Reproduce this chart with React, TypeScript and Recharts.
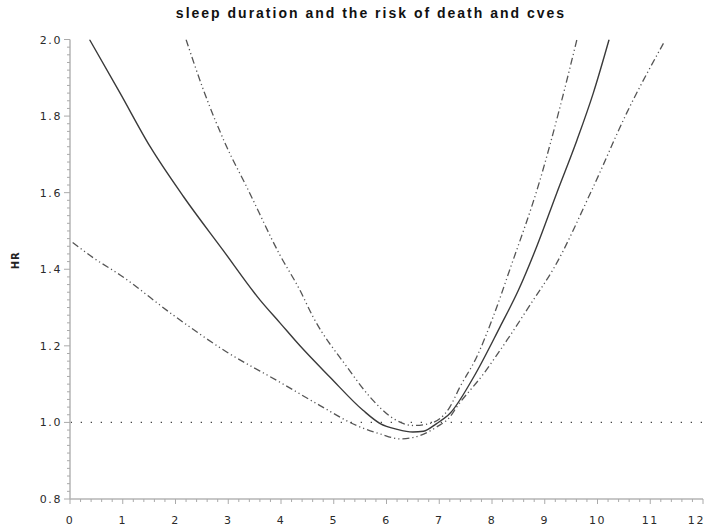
import { LineChart, Line, XAxis, YAxis, ReferenceLine } from "recharts";

// HR curves (x = sleep hours, hr = hazard ratio)
const hrCenter = [
  { x: 0.37, hr: 2.0 },
  { x: 0.95, hr: 1.86 },
  { x: 1.52, hr: 1.72 },
  { x: 2.15, hr: 1.59 },
  { x: 2.9, hr: 1.45 },
  { x: 3.6, hr: 1.32 },
  { x: 3.98, hr: 1.26 },
  { x: 4.36, hr: 1.2 },
  { x: 4.93, hr: 1.118 },
  { x: 5.56, hr: 1.031 },
  { x: 5.88, hr: 0.997 },
  { x: 6.2, hr: 0.982 },
  { x: 6.5, hr: 0.975 },
  { x: 6.7, hr: 0.977 },
  { x: 6.95, hr: 0.997 },
  { x: 7.2, hr: 1.023 },
  { x: 7.65, hr: 1.118 },
  { x: 8.15, hr: 1.249 },
  { x: 8.5, hr: 1.345 },
  { x: 8.85, hr: 1.46 },
  { x: 9.23, hr: 1.6 },
  { x: 9.61, hr: 1.737 },
  { x: 9.92, hr: 1.86 },
  { x: 10.22, hr: 2.0 },
];

const hrUpper = [
  { x: 2.2, hr: 2.0 },
  { x: 2.53, hr: 1.868 },
  { x: 2.97, hr: 1.72 },
  { x: 3.35, hr: 1.615 },
  { x: 3.98, hr: 1.437 },
  { x: 4.36, hr: 1.345 },
  { x: 4.61, hr: 1.275 },
  { x: 5.25, hr: 1.145 },
  { x: 5.69, hr: 1.066 },
  { x: 6.13, hr: 1.01 },
  { x: 6.51, hr: 0.992 },
  { x: 6.82, hr: 0.997 },
  { x: 7.2, hr: 1.04 },
  { x: 7.39, hr: 1.092 },
  { x: 7.71, hr: 1.171 },
  { x: 8.02, hr: 1.275 },
  { x: 8.34, hr: 1.4 },
  { x: 8.91, hr: 1.633 },
  { x: 9.29, hr: 1.824 },
  { x: 9.61, hr: 2.0 },
];

const hrLower = [
  { x: 0.05, hr: 1.47 },
  { x: 0.44, hr: 1.43 },
  { x: 0.95, hr: 1.385 },
  { x: 1.96, hr: 1.28 },
  { x: 2.97, hr: 1.184 },
  { x: 3.98, hr: 1.105 },
  { x: 4.74, hr: 1.044 },
  { x: 5.43, hr: 0.992 },
  { x: 5.88, hr: 0.97 },
  { x: 6.26, hr: 0.957 },
  { x: 6.64, hr: 0.966 },
  { x: 6.95, hr: 0.988 },
  { x: 7.2, hr: 1.014 },
  { x: 7.33, hr: 1.04 },
  { x: 7.84, hr: 1.127 },
  { x: 8.28, hr: 1.214 },
  { x: 8.78, hr: 1.319 },
  { x: 9.16, hr: 1.4 },
  { x: 9.92, hr: 1.615 },
  { x: 10.55, hr: 1.807 },
  { x: 11.25, hr: 1.99 },
];

const X_MAJOR = [0, 1, 2, 3, 4, 5, 6, 7, 8, 9, 10, 11, 12];
const Y_MAJOR = [0.8, 1.0, 1.2, 1.4, 1.6, 1.8, 2.0];

// minor ticks: every 0.2 on x, every 0.02 on y
const xTicks = Array.from({ length: 61 }, (_, i) => +(i * 0.2).toFixed(2));
const yTicks = Array.from({ length: 61 }, (_, i) => +(0.8 + i * 0.02).toFixed(2));

const TITLE = "sleep duration and the risk of death and cves";
const tickFont = { fontFamily: "DejaVu Sans", fontSize: 11, letterSpacing: 1.6, fill: "#2a2a2a" };

const isMajor = (v: number, list: number[]) => list.some((m) => Math.abs(m - v) < 1e-6);

function YTick(props: any) {
  const { x, y, payload } = props;
  const major = isMajor(payload.value, Y_MAJOR);
  return (
    <g>
      <line x1={x} x2={x - (major ? 6 : 3)} y1={y} y2={y} stroke="#aaa" />
      {major && (
        <text x={x - 8} y={y} dy={4} textAnchor="end" {...tickFont}>
          {payload.value.toFixed(1)}
        </text>
      )}
    </g>
  );
}

function XTick(props: any) {
  const { x, y, payload } = props;
  const major = isMajor(payload.value, X_MAJOR);
  const last = payload.value === 12;
  return (
    <g>
      <line x1={x} x2={x} y1={y} y2={y + (major ? 5 : 3)} stroke="#aaa" />
      {major && (
        <text x={last ? 705 : x} y={y + 25} textAnchor={last ? "end" : "middle"} {...tickFont}>
          {payload.value}
        </text>
      )}
    </g>
  );
}

export default function App() {
  return (
    <div style={{ position: "absolute", left: 0, top: 0, width: 706, height: 531, background: "#fff" }}>
      <div
        style={{
          position: "absolute",
          left: 71,
          top: 5,
          width: 600,
          textAlign: "center",
          fontFamily: "Liberation Sans, Arial, sans-serif",
          fontWeight: "bold",
          fontSize: 14,
          letterSpacing: 2,
          color: "#111",
        }}
      >
        {TITLE}
      </div>
      <LineChart width={706} height={531} margin={{ top: 39.5, right: 3, bottom: 0, left: 0 }}>
        <XAxis
          type="number"
          dataKey="x"
          domain={[0, 12]}
          ticks={xTicks}
          interval={0}
          height={32}
          tickSize={0}
          tickMargin={0}
          tickLine={false}
          tick={<XTick />}
          axisLine={{ stroke: "#b5b5b5", strokeWidth: 1.5 }}
        />
        <YAxis
          type="number"
          dataKey="hr"
          domain={[0.8, 2.0]}
          ticks={yTicks}
          interval={0}
          allowDataOverflow
          width={70}
          tickSize={0}
          tickMargin={0}
          tickLine={false}
          tick={<YTick />}
          axisLine={{ stroke: "#b5b5b5", strokeWidth: 1.5 }}
          label={{
            value: "HR",
            angle: -90,
            position: "insideLeft",
            offset: 15,
            style: { fontFamily: "DejaVu Sans", fontWeight: "bold", fontSize: 10, letterSpacing: 1, fill: "#222" },
          }}
        />
        <ReferenceLine y={1} stroke="#444" strokeWidth={1.3} strokeDasharray="1.3 8.7" strokeDashoffset={-0.7} />
        <Line
          data={hrLower}
          dataKey="hr"
          type="monotone"
          stroke="#555"
          strokeWidth={1.3}
          strokeDasharray="7 3 1.2 3 1.2 3"
          dot={false}
          isAnimationActive={false}
        />
        <Line
          data={hrUpper}
          dataKey="hr"
          type="monotone"
          stroke="#555"
          strokeWidth={1.3}
          strokeDasharray="7 3 1.2 3 1.2 3"
          dot={false}
          isAnimationActive={false}
        />
        <Line
          data={hrCenter}
          dataKey="hr"
          type="monotone"
          stroke="#3a3a3a"
          strokeWidth={1.4}
          dot={false}
          isAnimationActive={false}
        />
      </LineChart>
    </div>
  );
}
